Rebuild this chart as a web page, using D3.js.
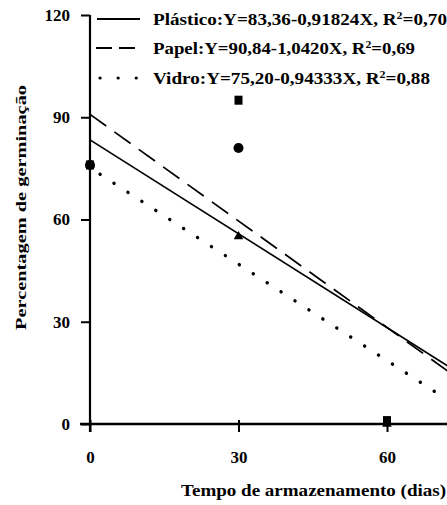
<!DOCTYPE html>
<html><head><meta charset="utf-8">
<script src="https://cdn.jsdelivr.net/npm/d3@7"></script>
<style>
body{margin:0;background:#fff;}
text{font-family:"Liberation Serif","Times New Roman",serif;font-weight:bold;fill:#000;}
</style></head>
<body><svg id="c" width="447" height="505"></svg>
<script>
// Data
const days = [0, 30, 60];
const plastico = [76, 55, 0];     // triangles
const papel = [76, 95, 1];        // squares
const vidro = [76, 81, 0];        // circles
const xTicks = [0, 30, 60];
const yTicks = [0, 30, 60, 90, 120];
const series = [
  {name:"Plástico", a:83.36, b:0.91824, eq:"Y=83,36-0,91824X, R", r2:"=0,70", dash:null},
  {name:"Papel", a:90.84, b:1.0420, eq:"Y=90,84-1,0420X, R", r2:"=0,69", dash:"20,10"},
  {name:"Vidro", a:75.20, b:0.94333, eq:"Y=75,20-0,94333X, R", r2:"=0,88", dash:"0.1,16.5"}
];
const xMax = 72.2;

const svg = d3.select("#c");
const x = d3.scaleLinear().domain([0, 60]).range([90, 387]);
const y = d3.scaleLinear().domain([0, 120]).range([424, 15]);

// regression lines
const lineGen = d3.line().x(d => x(d[0])).y(d => y(d[1]));
series.forEach(s => {
  const dotted = s.dash && s.dash.startsWith("0.1");
  const pts = [[0, s.a], [xMax, s.a - s.b * xMax]];
  svg.append("path").attr("d", lineGen(pts)).attr("fill", "none")
    .attr("stroke", "#000").attr("stroke-width", dotted ? 3.4 : 1.7)
    .attr("stroke-linecap", dotted ? "round" : "butt")
    .attr("stroke-dasharray", s.dash)
    .attr("stroke-dashoffset", dotted ? -12 : 0);
});

// axes
const yAxis = d3.axisLeft(y).tickValues(yTicks).tickSize(9).tickPadding(11);
const gy = svg.append("g").attr("transform", `translate(${x(0)},0)`).call(yAxis);
const xAxis = d3.axisBottom(x).tickValues(xTicks).tickSize(8).tickPadding(19);
const gx = svg.append("g").attr("transform", `translate(0,${y(0)})`).call(xAxis);
[gy, gx].forEach(g => {
  g.select(".domain").remove();
  g.selectAll(".tick line").attr("stroke", "#000").attr("stroke-width", 2);
  g.selectAll(".tick text").style("font-family", '"Liberation Serif",serif').style("font-weight", "bold").style("font-size", "17px").attr("fill", "#000");
});
gx.selectAll(".tick line").attr("y1", -4);
svg.append("line").attr("x1", x(0)).attr("x2", x(0)).attr("y1", y(120)).attr("y2", y(0) + 8).attr("stroke", "#000").attr("stroke-width", 2.2);
svg.append("line").attr("x1", 80).attr("x2", 447).attr("y1", y(0)).attr("y2", y(0)).attr("stroke", "#000").attr("stroke-width", 2.6);

// markers
const tri = d3.symbol().type(d3.symbolTriangle).size(40);
days.forEach((d, i) => {
  svg.append("rect").attr("x", x(d) - 4).attr("y", y(papel[i]) - 4.5).attr("width", 8).attr("height", 9).attr("fill", "#000");
  svg.append("path").attr("d", tri()).attr("transform", `translate(${x(d)},${y(plastico[i])})`).attr("fill", "#000");
});
days.forEach((d, i) => {
  if (d === 60) return;
  svg.append("circle").attr("cx", x(d)).attr("cy", y(vidro[i])).attr("r", 5).attr("fill", "#000");
});

// legend
const legY = [19, 48, 78];
const legW = [294, 262, 277];
series.forEach((s, i) => {
  const ly = legY[i];
  const dotted = s.dash && s.dash.startsWith("0.1");
  const ln = svg.append("line").attr("x1", 97).attr("x2", 140).attr("y1", ly).attr("y2", ly)
    .attr("stroke", "#000").attr("stroke-width", dotted ? 3.2 : 1.8);
  if (i === 1) ln.attr("x1", 96).attr("x2", 139).attr("stroke-dasharray", "16,7");
  if (i === 2) ln.attr("x1", 100).attr("x2", 140).attr("stroke-dasharray", "0.1,18").attr("stroke-linecap", "round");
  const t = svg.append("text").attr("x", 153).attr("y", ly + 6).style("font-size", "16px")
    .attr("textLength", legW[i]).attr("lengthAdjust", "spacingAndGlyphs");
  t.append("tspan").text(s.name + ":" + s.eq);
  t.append("tspan").text("2").attr("dy", -6).style("font-size", "10px");
  t.append("tspan").text(s.r2).attr("dy", 6);
});

// axis titles
svg.append("text").attr("x", 181).attr("y", 496)
  .attr("textLength", 265).attr("lengthAdjust", "spacingAndGlyphs")
  .style("font-size", "16px").text("Tempo de armazenamento (dias)");
svg.append("text").attr("transform", "translate(26,330) rotate(-90)")
  .attr("textLength", 245).attr("lengthAdjust", "spacingAndGlyphs")
  .style("font-size", "15px").text("Percentagem de germinação");
</script></body></html>
